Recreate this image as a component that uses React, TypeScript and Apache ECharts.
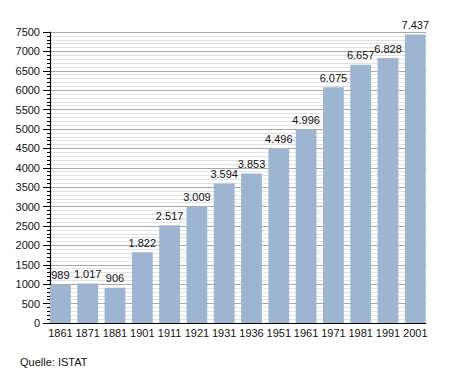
import React, { useEffect, useRef } from "react";
import * as echarts from "echarts";

const years = ["1861", "1871", "1881", "1901", "1911", "1921", "1931", "1936", "1951", "1961", "1971", "1981", "1991", "2001"];
const population = [989, 1017, 906, 1822, 2517, 3009, 3594, 3853, 4496, 4996, 6075, 6657, 6828, 7437];
const sourceText = "Quelle: ISTAT";

const fmt = (v: number) => {
  const s = String(Math.round(v));
  return s.replace(/\B(?=(\d{3})+(?!\d))/g, ".");
};

export default function App() {
  const ref = useRef<HTMLDivElement>(null);
  useEffect(() => {
    if (!ref.current) return;
    const chart = echarts.init(ref.current, undefined, { renderer: "svg" });
    const font = "'Liberation Sans', Arial, sans-serif";
    const band = 27.3;
    const barW = 20.8;
    const left = 50;
    const gridW = band * years.length;
    const plotRight = left + gridW - (band - barW);
    chart.setOption({
      animation: false,
      backgroundColor: "#ffffff",
      textStyle: { fontFamily: font },
      grid: { left, top: 32, width: gridW, height: 291, containLabel: false },
      xAxis: {
        type: "category",
        data: years,
        boundaryGap: true,
        axisLine: { show: true, lineStyle: { color: "#000", width: 1.2 } },
        axisTick: { show: false },
        axisLabel: {
          color: "#111",
          fontSize: 11,
          fontFamily: font,
          margin: 4,
          interval: 0,
          formatter: (v: string) => "{a|" + v + "}",
          rich: { a: { fontSize: 11, fontFamily: font, color: "#111", padding: [0, band - barW, 0, 0] } },
        },
        splitLine: { show: false },
      },
      yAxis: {
        type: "value",
        min: 0,
        max: 7500,
        interval: 500,
        axisLine: { show: true, lineStyle: { color: "#000", width: 1.2 } },
        axisTick: { show: true, length: 7, lineStyle: { color: "#000" } },
        minorTick: { show: true, splitNumber: 5, length: 3, lineStyle: { color: "#000" } },
        axisLabel: { color: "#111", fontSize: 11, fontFamily: font, margin: 10, formatter: (v: number) => String(v) },
        splitLine: { show: true, lineStyle: { color: "#a8a8a8", width: 1 } },
        minorSplitLine: { show: true, lineStyle: { color: "#e2e2e2", width: 1 } },
      },
      series: [
        {
          type: "bar",
          data: population,
          barWidth: barW,
          barGap: 0,
          barCategoryGap: 0,
          itemStyle: { color: "#9db5d1" },
          label: {
            show: true,
            position: "top",
            distance: 4,
            color: "#111",
            fontSize: 11,
            fontFamily: font,
            formatter: (p: any) => fmt(p.value),
          },
        },
        {
          type: "bar",
          data: years.map(() => null),
          barWidth: band - barW,
          barGap: 0,
          itemStyle: { color: "transparent" },
        },
      ],
      graphic: [
        {
          type: "rect",
          shape: { x: plotRight + 0.5, y: 28, width: 12, height: 298 },
          style: { fill: "#ffffff" },
          z: 100,
        },
        {
          type: "text",
          left: 20,
          top: 356,
          style: { text: sourceText, fontSize: 11, fontFamily: font, fill: "#111" },
        },
      ],
    });
    return () => chart.dispose();
  }, []);
  return <div ref={ref} style={{ width: 455, height: 373, position: "absolute", left: 0, top: 0 }} />;
}
